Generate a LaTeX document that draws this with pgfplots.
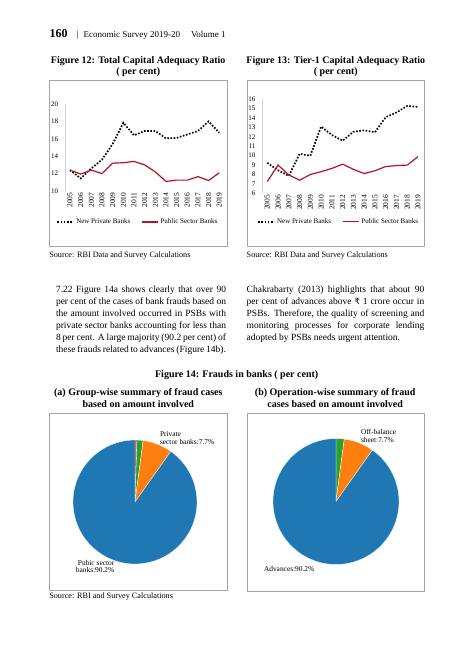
\documentclass[border=0pt]{standalone}
\usepackage{fontspec}
\setmainfont{Liberation Serif}
\newfontfamily\rupeefont{DejaVu Sans}
\usepackage{pgfplots}
\pgfplotsset{compat=1.18}
\definecolor{pblue}{HTML}{1F77B4}
\definecolor{porange}{HTML}{FF7F0E}
\definecolor{pgreen}{HTML}{2CA02C}
\definecolor{pred}{HTML}{D62728}
\definecolor{dred}{RGB}{180,20,35}
\definecolor{framec}{RGB}{165,165,165}

\pgfplotstableread{
year npb psb
2005 12.4 12.4
2006 11.45 11.95
2007 12.6 12.4
2008 13.6 12.0
2009 15.4 13.2
2010 17.85 13.25
2011 16.4 13.4
2012 16.9 13.0
2013 16.9 12.2
2014 16.05 11.1
2015 16.1 11.25
2016 16.5 11.25
2017 16.9 11.65
2018 18.0 11.2
2019 16.7 12.1
}\totalcar

\pgfplotstableread{
year npb psb
2005 9.25 7.25
2006 8.45 9.0
2007 7.85 7.95
2008 10.2 7.4
2009 10.0 8.0
2010 13.1 8.3
2011 12.2 8.65
2012 11.6 9.1
2013 12.55 8.55
2014 12.7 8.1
2015 12.5 8.4
2016 14.1 8.85
2017 14.6 8.95
2018 15.3 9.0
2019 15.2 9.9
}\tiercar

\pgfplotsset{
  linechart/.style={
    scale only axis,
    axis x line*=bottom, axis y line*=left,
    x axis line style={draw=none},
    y axis line style={draw=black!18},
    major tick length=0pt,
    tick style={draw=none},
    xmin=2004.5, xmax=2019.5,
    xtick={2005,2006,...,2019},
    /pgf/number format/set thousands separator={},
    /pgf/number format/assume math mode=true,
    xticklabel style={rotate=90, anchor=east, inner ysep=0pt, inner xsep=1.5pt, font=\fontsize{7.5}{8}\selectfont},
    yticklabel style={anchor=east, inner sep=0pt, xshift=-6.5pt, font=\fontsize{7}{8}\selectfont},
    legend columns=2,
    legend style={draw=none, fill=none, font=\fontsize{7}{8}\selectfont, anchor=center,
      /tikz/every even column/.append style={column sep=9pt}},
    legend image code/.code={\draw[#1] (0pt,0pt) -- (16pt,0pt);},
    clip=false,
  },
  npbstyle/.style={black, line width=1.7pt, dash pattern=on 1.6pt off 1.6pt},
  psbstyle/.style={dred, line width=1.2pt},
  piechart/.style={hide axis, scale only axis, xmin=-1, xmax=1, ymin=-1, ymax=1, clip=false},
}

\newcommand{\pieslices}[2]{% radius, list
  \gdef\cumA{0}%
  \foreach \v/\col in {#2} {%
    \pgfmathsetmacro{\aone}{90-3.6*\cumA}%
    \pgfmathsetmacro{\newcum}{\cumA+\v}%
    \pgfmathsetmacro{\atwo}{90-3.6*\newcum}%
    \edef\temp{\noexpand\fill[\col, draw=white, line width=0.3pt] (axis cs:0,0) -- ++(\aone:#1) arc[start angle=\aone, end angle=\atwo, radius=#1] -- cycle;}%
    \temp
    \xdef\cumA{\newcum}%
  }%
}

\begin{document}
\begin{tikzpicture}[x=1pt,y=1pt, every node/.style={inner sep=0pt, outer sep=0pt}]
\useasboundingbox[fill=white] (0,0) rectangle (474,-651);

% header
\node[anchor=base west, font=\fontsize{12}{12}\selectfont\bfseries] at (49.5,-37.3) {160};
\node[anchor=base west, font=\fontsize{9}{9}\selectfont] at (76.8,-37.5) {|\hspace{5pt}Economic Survey 2019-20\hspace{11pt}Volume 1};

% figure titles
\node[anchor=base, font=\fontsize{10}{10}\selectfont\bfseries] at (138.2,-63.5) {Figure 12: Total Capital Adequacy Ratio};
\node[anchor=base, font=\fontsize{10}{10}\selectfont\bfseries] at (138.2,-74.3) {( per cent)};
\node[anchor=base, font=\fontsize{10}{10}\selectfont\bfseries] at (335.8,-63.5) {Figure 13: Tier-1 Capital Adequacy Ratio};
\node[anchor=base, font=\fontsize{10}{10}\selectfont\bfseries] at (335.8,-74.3) {( per cent)};

% frames
\draw[framec, line width=0.7pt] (49,-80) rectangle (227,-246);
\draw[framec, line width=0.7pt] (247,-80) rectangle (424,-246);
\draw[framec, line width=0.7pt] (49,-413) rectangle (227,-590);
\draw[framec, line width=0.7pt] (247,-413) rectangle (424,-591);

% Figure 12
\begin{axis}[linechart, at={(64.7pt,-191pt)}, anchor=south west, width=159.9pt, height=87pt,
  ymin=10, ymax=20, ytick={10,12,...,20},
  legend style={at={(0.458,-0.356)}}]
\addplot[npbstyle] table[x=year,y=npb] {\totalcar};
\addlegendentry{New Private Banks}
\addplot[psbstyle] table[x=year,y=psb] {\totalcar};
\addlegendentry{Public Sector Banks}
\end{axis}

% Figure 13
\begin{axis}[linechart, at={(261.9pt,-193.3pt)}, anchor=south west, width=161.5pt, height=94pt,
  ymin=6, ymax=16, ytick={6,7,...,16},
  legend style={at={(0.476,-0.302)}}]
\addplot[npbstyle] table[x=year,y=npb] {\tiercar};
\addlegendentry{New Private Banks}
\addplot[psbstyle] table[x=year,y=psb] {\tiercar};
\addlegendentry{Public Sector Banks}
\end{axis}

% sources
\node[anchor=base west, font=\fontsize{8.2}{9}\selectfont] at (49.3,-257) {Source: RBI Data and Survey Calculations};
\node[anchor=base west, font=\fontsize{8.2}{9}\selectfont] at (246.7,-257) {Source: RBI Data and Survey Calculations};

% paragraphs
\node[anchor=base west, text width=170pt, align=justify, font=\fontsize{9.5}{12}\selectfont] at (56,-292.7) {\parfillskip=0pt
7.22 Figure 14a shows clearly that over 90\linebreak
per cent of the cases of bank frauds based on\linebreak
the amount involved occurred in PSBs with\linebreak
private sector banks accounting for less than\linebreak
8 per cent. A large majority (90.2 per cent) of\linebreak
these frauds related to advances (Figure 14b).};
\node[anchor=base west, text width=177.6pt, align=justify, font=\fontsize{9.5}{12}\selectfont] at (246.7,-292.7) {
Chakrabarty (2013) highlights that about 90\linebreak
per cent of advances above {\rupeefont\fontsize{8.5}{12}\selectfont ₹} 1 crore occur in\linebreak
PSBs. Therefore, the quality of screening and\linebreak
monitoring processes for corporate lending\linebreak
adopted by PSBs needs urgent attention.};

% figure 14 titles
\node[anchor=base, font=\fontsize{10}{10}\selectfont\bfseries] at (236.7,-377) {Figure 14: Frauds in banks ( per cent)};
\node[anchor=base, font=\fontsize{10}{10}\selectfont\bfseries] at (138.3,-395.5) {(a) Group-wise summary of fraud cases};
\node[anchor=base, font=\fontsize{10}{10}\selectfont\bfseries] at (138.3,-407.3) {based on amount involved};
\node[anchor=base, font=\fontsize{10}{10}\selectfont\bfseries] at (335.2,-395.5) {(b) Operation-wise summary of fraud};
\node[anchor=base, font=\fontsize{10}{10}\selectfont\bfseries] at (335.2,-407.3) {cases based on amount involved};

% pie (a)
\begin{axis}[piechart, at={(135pt,-502pt)}, anchor=center, width=124pt, height=124pt]
\pieslices{62pt}{0.5/pred,1.6/pgreen,7.7/porange,90.2/pblue}
\end{axis}
% pie (b)
\begin{axis}[piechart, at={(336pt,-501.5pt)}, anchor=center, width=126pt, height=126pt]
\pieslices{63pt}{2.1/pgreen,7.7/porange,90.2/pblue}
\end{axis}

% pie labels
\node[anchor=base west, font=\fontsize{7.4}{8}\selectfont] at (160,-436) {Private};
\node[anchor=base west, font=\fontsize{7.4}{8}\selectfont] at (160,-444) {sector banks:7.7\%};
\node[anchor=base east, font=\fontsize{7.4}{8}\selectfont] at (114.3,-565) {Pubic sector};
\node[anchor=base east, font=\fontsize{7.4}{8}\selectfont] at (114.3,-572.7) {banks:90.2\%};
\node[anchor=base west, font=\fontsize{7.4}{8}\selectfont] at (361,-434.3) {Off-balance};
\node[anchor=base west, font=\fontsize{7.4}{8}\selectfont] at (361,-442.3) {sheet:7.7\%};
\node[anchor=base west, font=\fontsize{7.4}{8}\selectfont] at (264,-571) {Advances:90.2\%};

\node[anchor=base west, font=\fontsize{8.2}{9}\selectfont] at (49.3,-598.5) {Source: RBI and Survey Calculations};
\end{tikzpicture}
\end{document}
